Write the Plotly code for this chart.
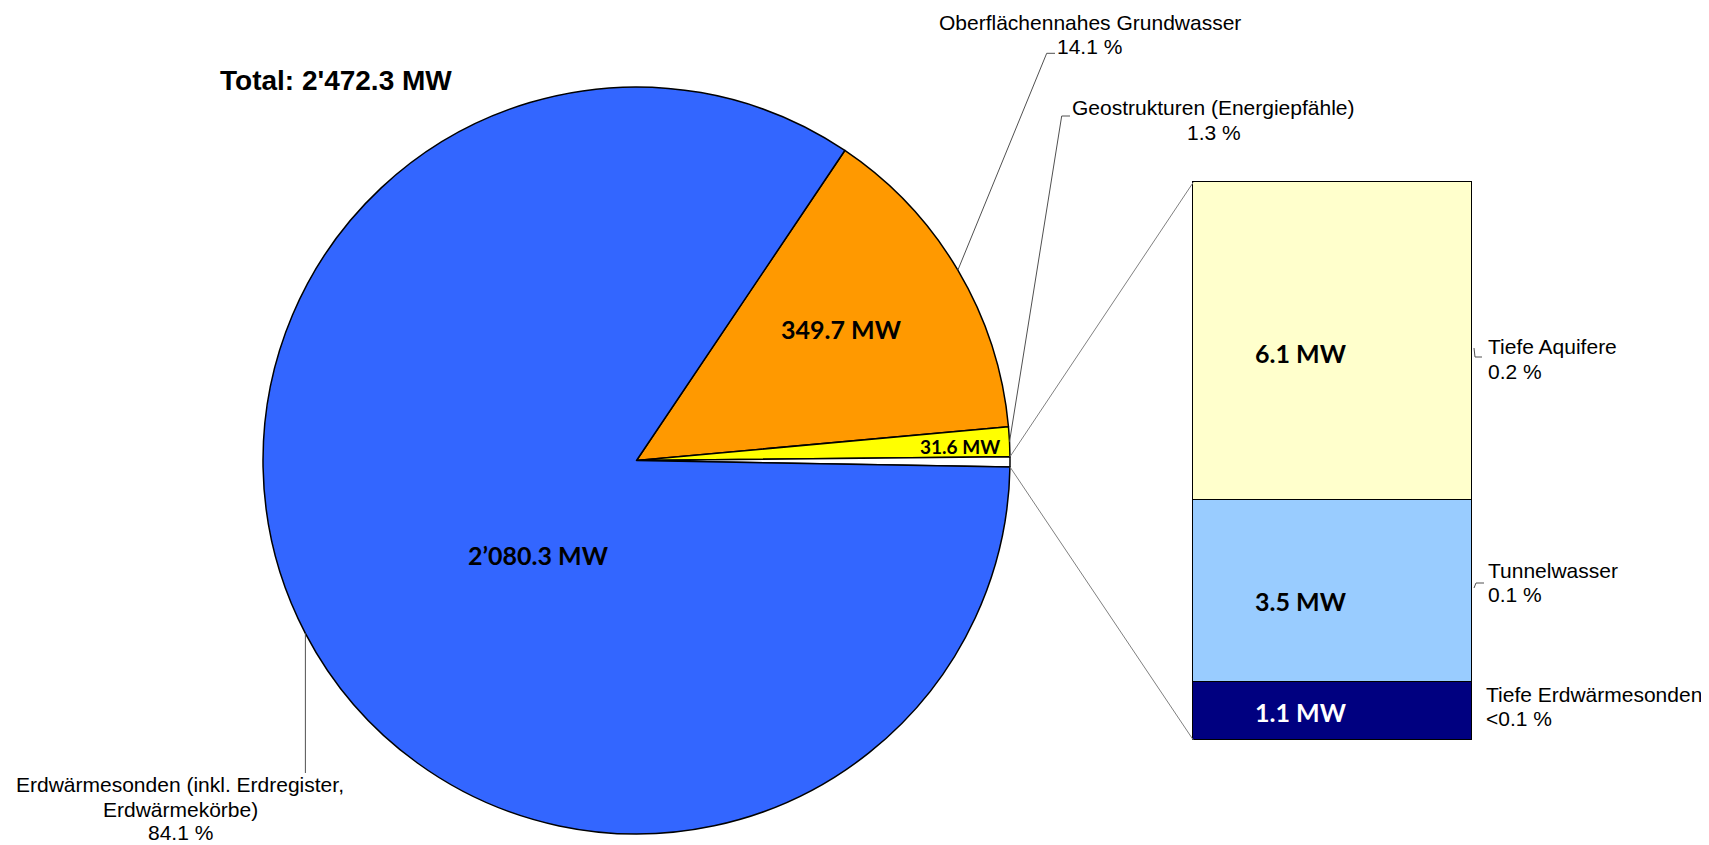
import math
import plotly.graph_objects as go

# ---------------- data ----------------
pie_labels = ["Oberflächennahes Grundwasser", "Geostrukturen (Energiepfähle)",
              "Übrige", "Erdwärmesonden (inkl. Erdregister, Erdwärmekörbe)"]
pie_label_lines = [["Oberflächennahes Grundwasser"], ["Geostrukturen (Energiepfähle)"],
                   [], ["Erdwärmesonden (inkl. Erdregister,", "Erdwärmekörbe)"]]
pie_values = [349.7, 31.6, 10.7, 2080.3]
pie_colors = ["#FF9900", "#FFFF00", "#FFFFFF", "#3366FF"]

bar_labels = ["Tiefe Erdwärmesonden", "Tunnelwasser", "Tiefe Aquifere"]
bar_values = [1.1, 3.5, 6.1]
bar_colors = ["#000080", "#99CCFF", "#FFFFCC"]
bar_text_colors = ["#FFFFFF", "#000000", "#000000"]

total_text = "Total: 2'472.3 MW"

# ---------------- layout geometry (screen pixels) ----------------
W, H = 1709, 845
OFF = 8  # page body margin offset
PIE_L, PIE_R, PIE_T, PIE_B = 263, 1010, 87, 834
BAR_L, BAR_R, BAR_T, BAR_B = 1193.3, 1472.3, 182.3, 740
PAD = 3  # px of padding around the bar so its outline is not clipped
ROTATION = 33.9

cx, cy = (PIE_L + PIE_R) / 2, (PIE_T + PIE_B) / 2
R = (PIE_R - PIE_L) / 2
total = sum(pie_values)
bar_total = sum(bar_values)

ARIAL = "Liberation Sans, Arial"
CALIBRI = "Lato"


def px(x):
    return (x - OFF) / W


def py(y):
    return 1 - (y - OFF) / H


def fmt_mw(v):
    return f"{v:,.1f}".replace(",", "’") + " MW"


def fmt_pct(v):
    p = v / total * 100
    return "<0.1 %" if p < 0.05 else f"{p:.1f} %"


# slice angles (clockwise from 12 o'clock)
starts, ends = [], []
a = ROTATION
for v in pie_values:
    starts.append(a)
    a += v / total * 360
    ends.append(a)


def edge_point(ang):
    th = math.radians(90 - ang)
    return cx + R * math.cos(th), cy - R * math.sin(th)


fig = go.Figure()

fig.add_trace(go.Pie(
    labels=pie_labels, values=pie_values, sort=False, direction="clockwise",
    rotation=ROTATION, textinfo="none", hoverinfo="label+value",
    marker=dict(colors=pie_colors, line=dict(color="#000000", width=1.5)),
    domain=dict(x=[px(PIE_L), px(PIE_R)], y=[py(PIE_B), py(PIE_T)]),
    showlegend=False,
))

for v, lab, c in zip(bar_values, bar_labels, bar_colors):
    fig.add_trace(go.Bar(
        x=[0], y=[v], name=lab, width=1,
        marker=dict(color=c, line=dict(color="#000000", width=1.5)),
        showlegend=False, hoverinfo="name+y",
    ))

annotations = []
shapes = []


def add_line_text(x, baseline, text, size, anchor="center", family=ARIAL, bold=False,
                  color="#000000", k=0.3465):
    xa = x
    if anchor == "left":
        xa = x - 2
    annotations.append(dict(x=px(xa), y=py(baseline - k * size), xref="paper", yref="paper",
                            text=text, showarrow=False, xanchor=anchor, yanchor="middle",
                            font=dict(family=family, size=size, color=color,
                                      weight="bold" if bold else "normal")))


# title
add_line_text(220, 90, total_text, 28, anchor="left", bold=True)

# value labels inside pie (center x, cap-middle y)
val_pos = [(841.8, 329.3), (960, 446.3), None, (538, 555)]
val_size = [25, 19, None, 25]
for i, pos in enumerate(val_pos):
    if pos is None:
        continue
    annotations.append(dict(x=px(pos[0]), y=py(pos[1]), xref="paper", yref="paper",
                            text=fmt_mw(pie_values[i]), showarrow=False,
                            xanchor="center", yanchor="middle",
                            font=dict(family=CALIBRI, size=val_size[i], color="#000000",
                                      weight="bold")))

# outer labels of pie with leader lines
out_x = [1089.5, 1213.7, None, 180]
out_baselines = [[29.3, 53.3], [115, 139.3], None, [791.7, 816.7, 840]]
elbows = [((1046.7, 53.3), (1055, 53.3)), ((1061.7, 116), (1070, 116)), None, None]
for i in range(len(pie_values)):
    if out_x[i] is None:
        continue
    lines = pie_label_lines[i] + [fmt_pct(pie_values[i])]
    for txt, bl in zip(lines, out_baselines[i]):
        add_line_text(out_x[i], bl, txt, 21)
    sx, sy = edge_point((starts[i] + ends[i]) / 2)
    if elbows[i] is not None:
        (ex, ey), (tx, ty) = elbows[i]
        path = f"M {px(sx)},{py(sy)} L {px(ex)},{py(ey)} L {px(tx)},{py(ty)}"
    else:
        path = f"M {px(sx)},{py(sy)} L {px(sx)},{py(773)}"
    shapes.append(dict(type="path", path=path, xref="paper", yref="paper",
                       line=dict(color="#505050", width=1)))

# connectors from small slice to the bar
sx0, sy0 = edge_point(starts[2])
sx1, sy1 = edge_point(ends[2])
shapes.append(dict(type="line", xref="paper", yref="paper",
                   x0=px(sx0), y0=py(sy0), x1=px(BAR_L), y1=py(BAR_T),
                   line=dict(color="#808080", width=1)))
shapes.append(dict(type="line", xref="paper", yref="paper",
                   x0=px(sx1), y0=py(sy1), x1=px(BAR_L), y1=py(BAR_B),
                   line=dict(color="#808080", width=1)))

# bar value labels (shifted from segment centres)
yshifts = [-1, -10, -12]
cum = 0
for v, c, ys in zip(bar_values, bar_text_colors, yshifts):
    annotations.append(dict(x=0, y=cum + v / 2, xref="x", yref="y", text=fmt_mw(v),
                            showarrow=False, xshift=-31.5, yshift=ys,
                            font=dict(family=CALIBRI, size=25, color=c, weight="bold")))
    cum += v

# bar side labels
side_x = [1486, 1488, 1487.7]
side_baselines = [[701.7, 726], [577.3, 601.7], [353.3, 378.3]]
for lab, v, x, bls in zip(bar_labels, bar_values, side_x, side_baselines):
    add_line_text(x, bls[0], lab, 21, anchor="left")
    add_line_text(x, bls[1], fmt_pct(v), 21, anchor="left")

ticks = [[(1474, 348), (1475, 357), (1482, 357)], [(1474, 588), (1476, 583), (1484, 583)]]
for t in ticks:
    path = "M " + " L ".join(f"{px(x)},{py(y)}" for x, y in t)
    shapes.append(dict(type="path", path=path, xref="paper", yref="paper",
                       line=dict(color="#505050", width=1)))

xpad = PAD / (BAR_R - BAR_L)
ypad = PAD * bar_total / (BAR_B - BAR_T)

fig.update_layout(
    width=W, height=H, margin=dict(l=0, r=0, t=0, b=0),
    paper_bgcolor="#FFFFFF", plot_bgcolor="rgba(0,0,0,0)",
    barmode="stack", bargap=0,
    xaxis=dict(domain=[px(BAR_L - PAD), px(BAR_R + PAD)], range=[-0.5 - xpad, 0.5 + xpad],
               visible=False, fixedrange=True),
    yaxis=dict(domain=[py(BAR_B + PAD), py(BAR_T - PAD)], range=[-ypad, bar_total + ypad],
               visible=False, fixedrange=True),
    annotations=annotations, shapes=shapes,
)

fig.write_html("out.html")
